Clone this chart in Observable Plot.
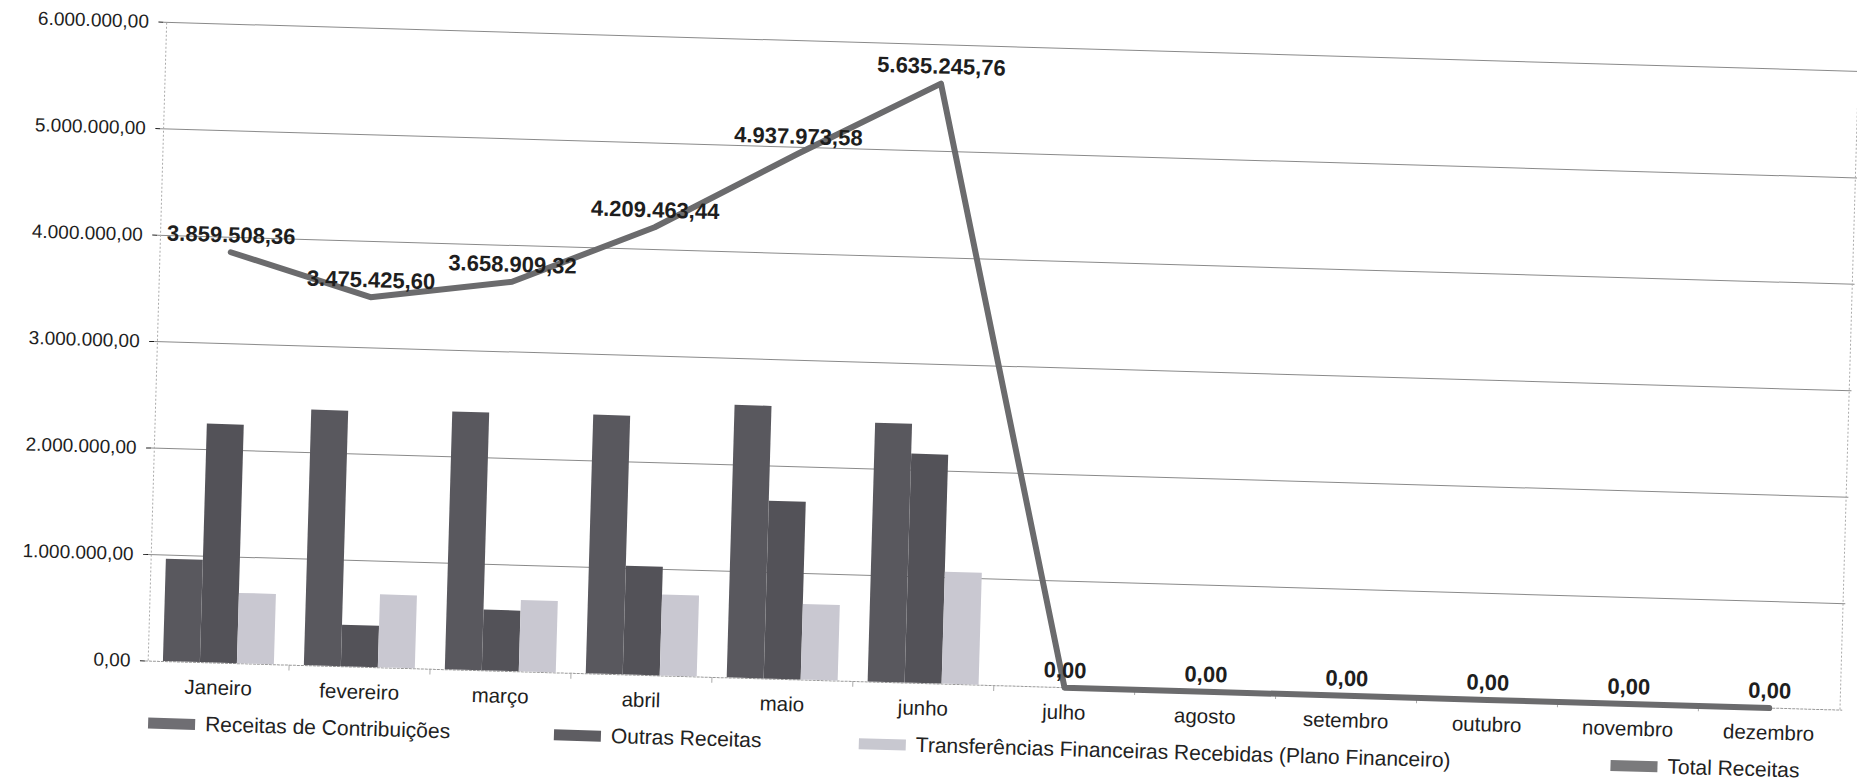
<!DOCTYPE html>
<html><head><meta charset="utf-8">
<script src="https://cdn.jsdelivr.net/npm/d3@7"></script>
<script src="https://cdn.jsdelivr.net/npm/@observablehq/plot@0.6"></script>
<style>
html,body{margin:0;padding:0;background:#fff;overflow:hidden;width:1857px;height:781px}
#wrap{position:absolute;left:0;top:0;width:1870px;height:781px;transform-origin:0 0;transform:rotate(1.66deg);font-family:"Liberation Sans",Arial,sans-serif}
#chart{position:absolute;left:0;top:0}
.item{position:absolute;display:flex;align-items:center;font-size:21px;line-height:22px;color:#222;white-space:nowrap;height:22px}
.sw{width:47px;height:11px;margin-right:10px}
#chart g[aria-label="x-axis tick label"]{font-size:20.5px}
</style></head>
<body><div id="wrap"><div id="chart"></div><div id="legend"></div></div>
<script>
const months = ["Janeiro","fevereiro","março","abril","maio","junho","julho","agosto","setembro","outubro","novembro","dezembro"];
const receitasContribuicoes = [960000, 2400000, 2420000, 2430000, 2560000, 2430000, 0, 0, 0, 0, 0, 0];
const outrasReceitas = [2240000, 390000, 570000, 1020000, 1670000, 2150000, 0, 0, 0, 0, 0, 0];
const transferencias = [660000, 685000, 670000, 760000, 710000, 1050000, 0, 0, 0, 0, 0, 0];
const totalReceitas = [3859508.36, 3475425.60, 3658909.32, 4209463.44, 4937973.58, 5635245.76, 0, 0, 0, 0, 0, 0];
const yTicks = [0, 1000000, 2000000, 3000000, 4000000, 5000000, 6000000];
const seriesNames = ["Receitas de Contribuições", "Outras Receitas", "Transferências Financeiras Recebidas (Plano Financeiro)", "Total Receitas"];
const seriesColors = ["#59585e", "#535258", "#c9c8d1", "#6b6b6d"];
const legendColors = ["#6f6e73", "#5e5d62", "#c8c8d0", "#7a7a7c"];

function fmt(v){
  const parts = v.toFixed(2).split(".");
  return parts[0].replace(/\B(?=(\d{3})+(?!\d))/g, ".") + "," + parts[1];
}

const data = months.map((m, i) => ({
  month: m,
  contrib: receitasContribuicoes[i],
  outras: outrasReceitas[i],
  transf: transferencias[i],
  total: totalReceitas[i]
}));

const W = 1870, ML = 164, MR = 8, MT = 17, PH = 639, MB = 44;
const H = MT + PH + MB;
const pInner = 0.215;
const step = (W - ML - MR) / 12;
const bw = step * (1 - pInner);
const third = bw / 3;

const chart = Plot.plot({
  width: W, height: H,
  marginLeft: ML, marginRight: MR, marginTop: MT, marginBottom: MB,
  style: {fontFamily: '"Liberation Sans", Arial, sans-serif', fontSize: "19px", color: "#1e1e1e", background: "transparent"},
  x: {domain: months, paddingInner: pInner, paddingOuter: pInner / 2, label: null, tickSize: 0, tickPadding: 17},
  y: {domain: [0, 6000000], ticks: yTicks, tickFormat: fmt, label: null, tickSize: 5, tickPadding: 10},
  marks: [
    Plot.ruleY(yTicks.filter(d => d > 0), {stroke: "#8a8a8a", strokeWidth: 1}),
    Plot.ruleY([0], {stroke: "#9a9a9a", strokeWidth: 1, strokeDasharray: "3,1"}),
    Plot.ruleX([months[0]], {x: d => d, dx: -step / 2, y1: 0, y2: 6000000, stroke: "#aaa", strokeDasharray: "2,2"}),
    Plot.ruleX([months[11]], {x: d => d, dx: step / 2, y1: 0, y2: 6000000, stroke: "#aaa", strokeDasharray: "2,2"}),
    Plot.ruleX(months.slice(1), {x: d => d, dx: -step / 2, y1: 0, y2: -55000, stroke: "#aaa"}),
    Plot.barY(data, {x: "month", y: "contrib", fill: seriesColors[0], insetLeft: 0, insetRight: 2 * third}),
    Plot.barY(data, {x: "month", y: "outras", fill: seriesColors[1], insetLeft: third, insetRight: third}),
    Plot.barY(data, {x: "month", y: "transf", fill: seriesColors[2], insetLeft: 2 * third, insetRight: 0}),
    Plot.line(data, {x: "month", y: "total", stroke: seriesColors[3], strokeWidth: 6}),
    Plot.text(data, {x: "month", y: "total", text: d => fmt(d.total), dy: -17, fontWeight: "bold", fontSize: 22, fill: "#1e1e1e"})
  ]
});
document.getElementById("chart").appendChild(chart);

const legendPos = [169, 575, 880, 1632];
const legend = document.getElementById("legend");
seriesNames.forEach((name, i) => {
  const it = document.createElement("div");
  it.className = "item";
  it.style.left = legendPos[i] + "px";
  it.style.top = "707px";
  const sw = document.createElement("span");
  sw.className = "sw";
  sw.style.background = legendColors[i];
  const tx = document.createElement("span");
  tx.textContent = name;
  it.appendChild(sw); it.appendChild(tx);
  legend.appendChild(it);
});
</script>
</body></html>
